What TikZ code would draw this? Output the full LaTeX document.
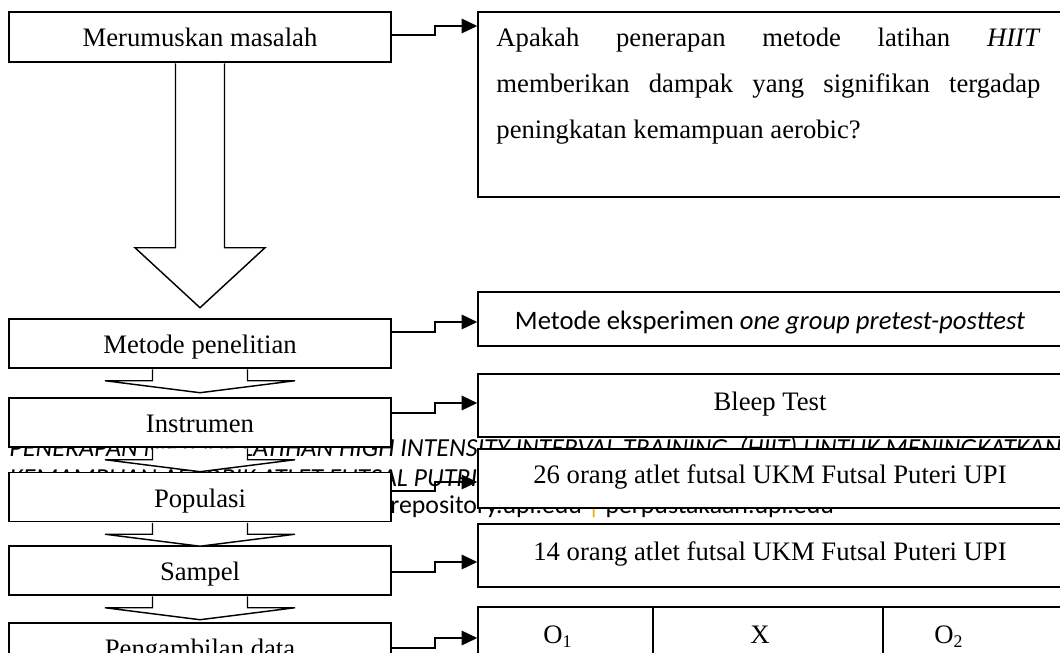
\documentclass[tikz,border=0pt]{standalone}
\usepackage{fontspec}
\setmainfont{Liberation Serif}
\newfontfamily\calibri{Carlito}
\usetikzlibrary{calc,arrows.meta}
\definecolor{upigold}{RGB}{238,172,0}

\begin{document}
\begin{tikzpicture}[x=0.45pt,y=-0.45pt,
  lbox/.style={draw,fill=white,line width=0.65pt,inner sep=0pt,minimum width=171.9pt,minimum height=22.05pt,text height=9pt,text depth=0pt,font=\fontsize{12pt}{14pt}\selectfont},
  rbox/.style={draw,fill=white,line width=0.65pt,inner sep=0pt,minimum width=262.8pt,text height=6.5pt,text depth=2pt,font=\fontsize{12pt}{14pt}\selectfont},
  qtxt/.style={inner sep=0pt,anchor=base west,text width=244.8pt,align=justify,font=\fontsize{12pt}{20.5pt}\selectfont},
  blk/.style={draw,fill=white,line width=0.65pt},
  link/.style={line width=1.05pt,-{Triangle[length=7pt,width=6.4pt]}},
  wm/.style={inner sep=0pt,anchor=base west,font=\calibri\itshape\fontsize{11.7pt}{14pt}\selectfont},
  cell/.style={inner sep=0pt,anchor=base,font=\fontsize{12pt}{14pt}\selectfont}]
\useasboundingbox (0,0) rectangle (1060,652);
\clip (0,0) rectangle (1060,652);
% page footer underneath the chart
\node[wm] (wm1) at (9,456) {PENERAPAN METODE LATIHAN HIGH INTENSITY INTERVAL TRAINING\ \ (HIIT) UNTUK MENINGKATKAN};
\node[wm] (wm2) at (9,486) {KEMAMPUAN AEROBIK ATLET FUTSAL PUTRI};
\node[wm,font=\calibri\fontsize{11.6pt}{13pt}\selectfont] (wm3) at (390,513) {repository.upi.edu {\color{upigold}|} perpustakaan.upi.edu};
% steps
\node[lbox,minimum height=22.5pt] (mm) at (200,37) {Merumuskan masalah};
\node[lbox] (mp) at (200,343.5) {Metode penelitian};
\node[lbox] (ins) at (200,422.5) {Instrumen};
\node[lbox] (pop) at (200,497) {Populasi};
\node[lbox] (smp) at (200,570.5) {Sampel};
\node[lbox] (pd) at (200,647.5) {Pengambilan data};
%\filldraw (mm.south) circle (2pt);
\filldraw[blk] ($(mm.south)+(-24.5,0.7)$) -- ++(0,184.3) -- ++(-40.5,0) -- ++(65,60) -- ++(65,-60) -- ++(-40.5,0) -- ++(0,-184.3);
\foreach \a in {mp,ins,pop,smp}
  \filldraw[blk] ($(\a.south)+(-47.5,0.7)$) -- ++(0,11.3) -- ++(-47.5,0) -- ++(95,12) -- ++(95,-12) -- ++(-47.5,0) -- ++(0,-11.3);
% answers
\node[rbox,minimum height=83.25pt] (q) at (770,104.5) {};
\node[qtxt] (qt) at (496,47) {\tolerance=10000 \hyphenpenalty=10000 Apakah penerapan metode latihan \textit{HIIT}\linebreak memberikan dampak yang signifikan tergadap\linebreak peningkatan kemampuan aerobic?\par};
\node[rbox,minimum height=24.3pt,text height=9pt,text depth=0pt,font=\calibri\fontsize{12pt}{14pt}\selectfont] (me) at (770,319) {Metode eksperimen \textit{one group pretest-posttest}};
\node[rbox,minimum height=28.35pt] (bl) at (770,405.5) {Bleep Test};
\node[rbox,minimum height=26.55pt] (b26) at (770,478.5) {26 orang atlet futsal UKM Futsal Puteri UPI};
\node[rbox,minimum height=28.35pt] (b14) at (770,555.5) {14 orang atlet futsal UKM Futsal Puteri UPI};
\node[rbox,minimum height=28.35pt] (tbl) at (770,638.5) {};
\foreach \c in {653,883}
  \draw[line width=0.65pt] (tbl.north -| \c,0) -- (tbl.south -| \c,0);
\node[cell] (o1) at (558,643) {O\textsubscript{1}};
\node[cell] (xx) at (760,643) {X};
\node[cell] (o2) at (949,643) {O\textsubscript{2}};
% links
\foreach \s/\ys/\t/\yt in {mm/35/q/26, mp/332/me/322, ins/413/bl/403, pop/491/b26/482, smp/572/b14/562, pd/648/tbl/638}
  \draw[link] (\s.east |- 0,\ys) -- ++(43,0) |- (\t.west |- 0,\yt);
\end{tikzpicture}
\end{document}
